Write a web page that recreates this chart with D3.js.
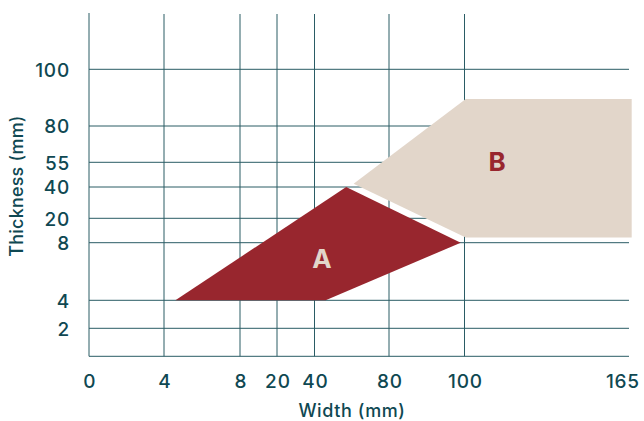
<!DOCTYPE html>
<html>
<head>
<meta charset="utf-8">
<script src="https://cdn.jsdelivr.net/npm/d3@7"></script>
<style>
  html, body { margin: 0; padding: 0; background: #fff; }
  text { font-family: Inter, "Open Sans", sans-serif; }
</style>
</head>
<body>
<script>
// tick values (axes are not linear, each tick gets its own slot)
const xTicks = [0, 4, 8, 20, 40, 80, 100, 165];
const yTicks = [2, 4, 8, 20, 40, 55, 80, 100];

// regions, [width, thickness]
const regionA = [[4.6, 4], [57, 40], [99, 8], [46, 4]];
const regionB = [[61, 42], [100.5, 89.5], [169, 89.5], [169, 10.5], [100.5, 10.5]];
const labelA = [44, 6.9];
const labelB = [113.5, 55.4];

let width = 644,
    height = 421;

// pixel slots for each tick
let xPos = [89, 164, 240, 277, 314.5, 389, 464.5, 622],
    yPos = [356.3, 328.3, 300.3, 242.7, 218.3, 187, 162.3, 126, 69.3];
let plotRight = 629,
    plotTop = 14;

let x = d3.scaleLinear().domain(xTicks).range(xPos);
let y = d3.scaleLinear().domain([0].concat(yTicks)).range(yPos);

let ink = '#0f4852',
    gridCol = '#2a5c65';

let svg = d3.select('body')
            .append('svg')
            .attr('width', width)
            .attr('height', height);

// grid
let grid = svg.append('g').attr('stroke', gridCol).attr('stroke-width', 1);

grid.selectAll('.vline')
    .data(xTicks.filter(d => d !== 165))
    .enter().append('line')
    .attr('x1', d => x(d)).attr('x2', d => x(d))
    .attr('y1', d => d === 0 ? plotTop - 1 : plotTop).attr('y2', y(0));

grid.selectAll('.hline')
    .data([0].concat(yTicks))
    .enter().append('line')
    .attr('x1', x(0)).attr('x2', plotRight)
    .attr('y1', d => y(d)).attr('y2', d => y(d));

// regions
let line = d3.line().x(d => x(d[0])).y(d => y(d[1]));

svg.append('path')
   .attr('d', line(regionB) + 'Z')
   .attr('fill', '#e2d6ca');

svg.append('path')
   .attr('d', line(regionA) + 'Z')
   .attr('fill', '#98262e');

svg.append('text')
   .attr('x', x(labelA[0])).attr('y', y(labelA[1]))
   .attr('text-anchor', 'middle').attr('dominant-baseline', 'central')
   .attr('font-size', 26).attr('font-weight', 700)
   .attr('fill', '#e2d6ca')
   .text('A');

svg.append('text')
   .attr('x', x(labelB[0])).attr('y', y(labelB[1]))
   .attr('text-anchor', 'middle').attr('dominant-baseline', 'central')
   .attr('font-size', 26).attr('font-weight', 700)
   .attr('fill', '#98262e')
   .text('B');

// axes
let xAxis = svg.append('g')
   .attr('transform', 'translate(0.4,' + 374 + ')')
   .call(d3.axisBottom(x).tickValues(xTicks).tickSize(0).tickPadding(0).tickFormat(d3.format('d')));

let yAxis = svg.append('g')
   .attr('transform', 'translate(' + 70 + ',0)')
   .call(d3.axisLeft(y).tickValues(yTicks).tickSize(0).tickPadding(0).tickFormat(d3.format('d')));

[xAxis, yAxis].forEach(a => {
  a.select('.domain').remove();
  a.selectAll('text')
   .attr('font-family', 'Inter, sans-serif')
   .attr('font-size', 19)
   .attr('font-weight', 500)
   .attr('letter-spacing', 0.8)
   .attr('fill', ink);
});
yAxis.selectAll('text').attr('dy', '0.36em');

svg.append('text')
   .attr('x', 352).attr('y', 417)
   .attr('text-anchor', 'middle')
   .attr('font-size', 18).attr('font-weight', 500)
   .attr('letter-spacing', 0.6)
   .attr('fill', ink)
   .text('Width (mm)');

svg.append('text')
   .attr('transform', 'translate(23,186) rotate(-90)')
   .attr('text-anchor', 'middle')
   .attr('font-size', 18).attr('font-weight', 500)
   .attr('letter-spacing', 0.2)
   .attr('fill', ink)
   .text('Thickness (mm)');
</script>
</body>
</html>
